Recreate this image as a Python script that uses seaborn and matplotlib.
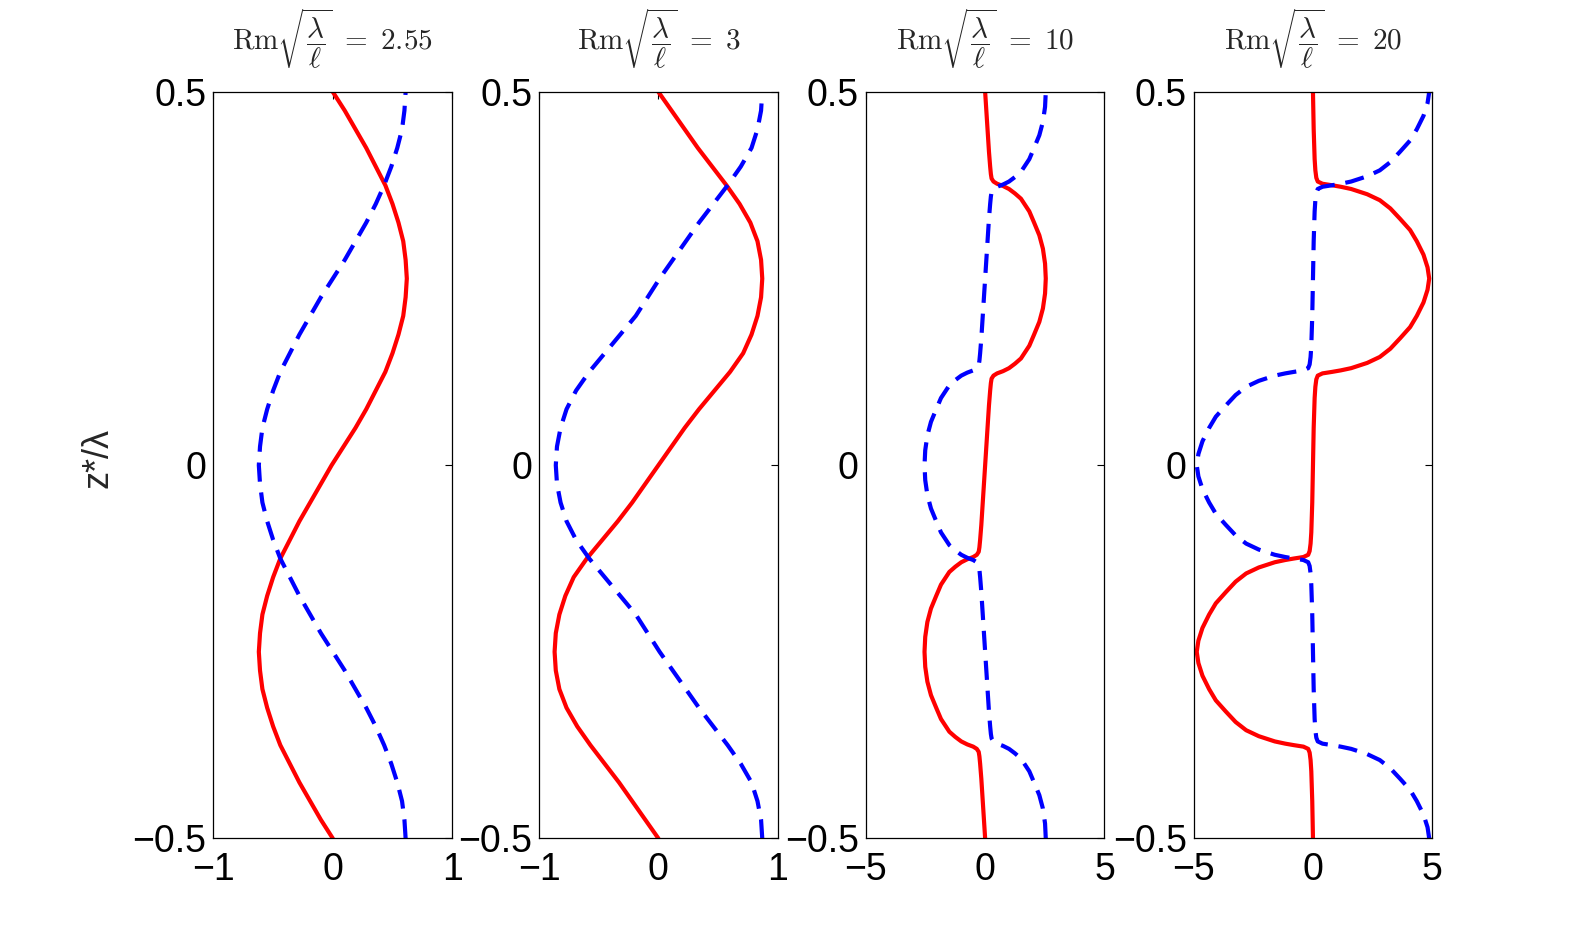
import matplotlib
matplotlib.use("Agg")
import matplotlib.pyplot as plt
import seaborn as sns

# Rm*sqrt(lambda/l) value of each panel and the x range shown
rm_values = ["2.55", "3", "10", "20"]
x_limits = [1, 1, 5, 5]

# panels 1 and 2 : smooth profiles, read on a regular z grid
z_smooth = [-0.5, -0.475, -0.45, -0.425, -0.4, -0.375, -0.35, -0.325, -0.3, -0.275,
            -0.25, -0.225, -0.2, -0.175, -0.15, -0.125, -0.1, -0.075, -0.05, -0.025,
            0.0, 0.025, 0.05, 0.075, 0.1, 0.125, 0.15, 0.175, 0.2, 0.225,
            0.25, 0.275, 0.3, 0.325, 0.35, 0.375, 0.4, 0.425, 0.45, 0.475, 0.5]

red_p1 = [0.0, -0.10, -0.19, -0.28, -0.36, -0.44, -0.50, -0.55, -0.59, -0.61,
          -0.62, -0.61, -0.59, -0.55, -0.50, -0.44, -0.36, -0.28, -0.19, -0.10,
          -0.01, 0.09, 0.19, 0.28, 0.36, 0.44, 0.50, 0.55, 0.59, 0.61,
          0.62, 0.61, 0.59, 0.55, 0.50, 0.44, 0.36, 0.28, 0.19, 0.10, 0.0]
blue_p1 = [0.61, 0.60, 0.58, 0.54, 0.49, 0.43, 0.36, 0.28, 0.19, 0.10,
           0.0, -0.10, -0.19, -0.28, -0.36, -0.44, -0.50, -0.55, -0.59, -0.61,
           -0.62, -0.61, -0.59, -0.55, -0.50, -0.44, -0.36, -0.28, -0.19, -0.10,
           0.0, 0.10, 0.19, 0.28, 0.36, 0.43, 0.49, 0.54, 0.58, 0.60, 0.61]

red_p2 = [0.0, -0.11, -0.22, -0.33, -0.45, -0.57, -0.68, -0.77, -0.83, -0.86,
          -0.87, -0.86, -0.83, -0.78, -0.71, -0.60, -0.47, -0.34, -0.22, -0.11,
          0.0, 0.11, 0.22, 0.34, 0.47, 0.60, 0.71, 0.78, 0.83, 0.86,
          0.87, 0.86, 0.83, 0.77, 0.68, 0.57, 0.45, 0.33, 0.22, 0.11, 0.0]
blue_p2 = [0.87, 0.86, 0.83, 0.78, 0.69, 0.58, 0.46, 0.34, 0.23, 0.12,
           0.01, -0.09, -0.19, -0.32, -0.45, -0.58, -0.69, -0.77, -0.82, -0.85,
           -0.86, -0.85, -0.82, -0.77, -0.69, -0.58, -0.45, -0.32, -0.19, -0.09,
           0.01, 0.12, 0.23, 0.34, 0.46, 0.58, 0.69, 0.78, 0.83, 0.86, 0.87]

# panel 3 (Rm = 10)
z_red_p3 = [-0.5, -0.46, -0.42, -0.4, -0.39, -0.384, -0.38, -0.377, -0.374, -0.37,
            -0.364, -0.357, -0.34, -0.325, -0.308, -0.29, -0.27, -0.25, -0.23, -0.21,
            -0.192, -0.175, -0.16, -0.143, -0.136, -0.13, -0.126, -0.123, -0.12, -0.116,
            -0.11, -0.1, -0.08, -0.04,
            0.0, 0.04, 0.08, 0.1, 0.11, 0.116, 0.12, 0.123, 0.126, 0.13,
            0.136, 0.143, 0.16, 0.175, 0.192, 0.21, 0.23, 0.25, 0.27, 0.29,
            0.308, 0.325, 0.34, 0.357, 0.364, 0.37, 0.374, 0.377, 0.38, 0.384,
            0.39, 0.4, 0.42, 0.46, 0.5]
red_p3 = [0.0, -0.08, -0.16, -0.21, -0.24, -0.27, -0.35, -0.5, -0.75, -1.0,
          -1.25, -1.5, -1.85, -2.05, -2.27, -2.42, -2.51, -2.54, -2.51, -2.42,
          -2.27, -2.05, -1.85, -1.5, -1.25, -1.0, -0.75, -0.5, -0.35, -0.27,
          -0.24, -0.21, -0.16, -0.08,
          0.0, 0.08, 0.16, 0.21, 0.24, 0.27, 0.35, 0.5, 0.75, 1.0,
          1.25, 1.5, 1.85, 2.05, 2.27, 2.42, 2.51, 2.54, 2.51, 2.42,
          2.27, 2.05, 1.85, 1.5, 1.25, 1.0, 0.75, 0.5, 0.35, 0.27,
          0.24, 0.21, 0.16, 0.08, 0.0]
z_blue_p3 = [-0.5, -0.48, -0.46, -0.442, -0.425, -0.41, -0.393, -0.386, -0.38, -0.376,
             -0.373, -0.37, -0.366, -0.36, -0.35, -0.33, -0.29, -0.25, -0.21, -0.17,
             -0.15, -0.14, -0.134, -0.13, -0.127, -0.124, -0.12, -0.114, -0.107, -0.09,
             -0.075, -0.058, -0.04, -0.02,
             0.0, 0.02, 0.04, 0.058, 0.075, 0.09, 0.107, 0.114, 0.12, 0.124,
             0.127, 0.13, 0.134, 0.14, 0.15, 0.17, 0.21, 0.25, 0.29, 0.33,
             0.35, 0.36, 0.366, 0.37, 0.373, 0.376, 0.38, 0.386, 0.393, 0.41,
             0.425, 0.442, 0.46, 0.48, 0.5]
blue_p3 = [2.54, 2.51, 2.42, 2.27, 2.05, 1.85, 1.5, 1.25, 1.0, 0.75,
           0.5, 0.35, 0.27, 0.24, 0.21, 0.16, 0.08, 0.0, -0.08, -0.16,
           -0.21, -0.24, -0.27, -0.35, -0.5, -0.75, -1.0, -1.25, -1.5, -1.85,
           -2.05, -2.27, -2.42, -2.51,
           -2.54, -2.51, -2.42, -2.27, -2.05, -1.85, -1.5, -1.25, -1.0, -0.75,
           -0.5, -0.35, -0.27, -0.24, -0.21, -0.16, -0.08, 0.0, 0.08, 0.16,
           0.21, 0.24, 0.27, 0.35, 0.5, 0.75, 1.0, 1.25, 1.5, 1.85,
           2.05, 2.27, 2.42, 2.51, 2.54]

# panel 4 (Rm = 20)
z_red_p4 = [-0.5, -0.45, -0.41, -0.395, -0.385, -0.38, -0.377, -0.375, -0.373, -0.37,
            -0.363, -0.355, -0.344, -0.33, -0.315, -0.3, -0.282, -0.265, -0.25, -0.235,
            -0.218, -0.2, -0.185, -0.17, -0.156, -0.145, -0.137, -0.13, -0.127, -0.125,
            -0.123, -0.12, -0.115, -0.105, -0.09, -0.05,
            0.0, 0.05, 0.09, 0.105, 0.115, 0.12, 0.123, 0.125, 0.127, 0.13,
            0.137, 0.145, 0.156, 0.17, 0.185, 0.2, 0.218, 0.235, 0.25, 0.265,
            0.282, 0.3, 0.315, 0.33, 0.344, 0.355, 0.363, 0.37, 0.373, 0.375,
            0.377, 0.38, 0.385, 0.395, 0.41, 0.45, 0.5]
red_p4 = [0.0, -0.03, -0.07, -0.1, -0.14, -0.2, -0.4, -0.8, -1.16, -1.6,
          -2.27, -2.8, -3.24, -3.65, -4.07, -4.35, -4.63, -4.8, -4.87, -4.8,
          -4.63, -4.35, -4.07, -3.65, -3.24, -2.8, -2.27, -1.6, -1.16, -0.8,
          -0.4, -0.2, -0.14, -0.1, -0.07, -0.03,
          0.0, 0.03, 0.07, 0.1, 0.14, 0.2, 0.4, 0.8, 1.16, 1.6,
          2.27, 2.8, 3.24, 3.65, 4.07, 4.35, 4.63, 4.8, 4.87, 4.8,
          4.63, 4.35, 4.07, 3.65, 3.24, 2.8, 2.27, 1.6, 1.16, 0.8,
          0.4, 0.2, 0.14, 0.1, 0.07, 0.03, 0.0]
z_blue_p4 = [-0.5, -0.485, -0.468, -0.45, -0.435, -0.42, -0.406, -0.395, -0.387, -0.38,
             -0.377, -0.375, -0.373, -0.37, -0.365, -0.355, -0.34, -0.3, -0.25, -0.2,
             -0.16, -0.145, -0.135, -0.13, -0.127, -0.125, -0.123, -0.12, -0.113, -0.105,
             -0.094, -0.08, -0.065, -0.05, -0.032, -0.015,
             0.0, 0.015, 0.032, 0.05, 0.065, 0.08, 0.094, 0.105, 0.113, 0.12,
             0.123, 0.125, 0.127, 0.13, 0.135, 0.145, 0.16, 0.2, 0.25, 0.3,
             0.34, 0.355, 0.365, 0.37, 0.373, 0.375, 0.377, 0.38, 0.387, 0.395,
             0.406, 0.42, 0.435, 0.45, 0.468, 0.485, 0.5]
blue_p4 = [4.87, 4.8, 4.63, 4.35, 4.07, 3.65, 3.24, 2.8, 2.27, 1.6,
           1.16, 0.8, 0.4, 0.2, 0.14, 0.1, 0.07, 0.03, 0.0, -0.03,
           -0.07, -0.1, -0.14, -0.2, -0.4, -0.8, -1.16, -1.6, -2.27, -2.8,
           -3.24, -3.65, -4.07, -4.35, -4.63, -4.8,
           -4.87, -4.8, -4.63, -4.35, -4.07, -3.65, -3.24, -2.8, -2.27, -1.6,
           -1.16, -0.8, -0.4, -0.2, -0.14, -0.1, -0.07, -0.03, 0.0, 0.03,
           0.07, 0.1, 0.14, 0.2, 0.4, 0.8, 1.16, 1.6, 2.27, 2.8,
           3.24, 3.65, 4.07, 4.35, 4.63, 4.8, 4.87]

panels = [
    (z_smooth, red_p1, z_smooth, blue_p1),
    (z_smooth, red_p2, z_smooth, blue_p2),
    (z_red_p3, red_p3, z_blue_p3, blue_p3),
    (z_red_p4, red_p4, z_blue_p4, blue_p4),
]

sns.set_style("white")
plt.rcParams['font.family'] = ['Liberation Sans', 'DejaVu Sans']
plt.rcParams['mathtext.fontset'] = 'cm'
plt.rcParams['axes.edgecolor'] = 'black'
plt.rcParams['axes.linewidth'] = 0.9

fig = plt.figure(figsize=(15.86, 9.44), dpi=100)
lefts = [0.1346, 0.3399, 0.5459, 0.7526]

for i, (zr, xr, zb, xb) in enumerate(panels):
    ax = fig.add_axes([lefts[i], 0.1118, 0.1505, 0.7908])
    sns.lineplot(x=xr, y=zr, sort=False, estimator=None, color=(1, 0, 0),
                 lw=3, ax=ax)
    sns.lineplot(x=xb, y=zb, sort=False, estimator=None, color=(0, 0, 1),
                 lw=3, linestyle=(0, (4.6, 2.6)), ax=ax)
    lim = x_limits[i]
    ax.set_xlim(-lim, lim)
    ax.set_ylim(-0.5, 0.5)
    ax.set_xticks([-lim, 0, lim])
    ax.set_xticklabels([f"\u2212{lim}", "0", f"{lim}"])
    ax.set_yticks([-0.5, 0, 0.5])
    ax.set_yticklabels(["\u22120.5", "0", "0.5"])
    ax.tick_params(direction="in", top=True, right=True, length=5, width=0.8,
                   color="black", labelsize=27, labelcolor="black")
    ax.tick_params(axis="x", pad=10)
    ax.tick_params(axis="y", pad=5)
    ax.set_xlabel("")
    ax.set_ylabel("")
    ax.set_title(r"$\mathrm{Rm}\sqrt{\dfrac{\lambda}{\ell}}\ =\ " + rm_values[i] + "$",
                 fontsize=21, pad=30)
    if i == 0:
        ax.set_ylabel("z*/\u03bb", fontsize=26)
        ax.yaxis.set_label_coords(-0.41, 0.51)

plt.savefig("out.png", dpi=100)
